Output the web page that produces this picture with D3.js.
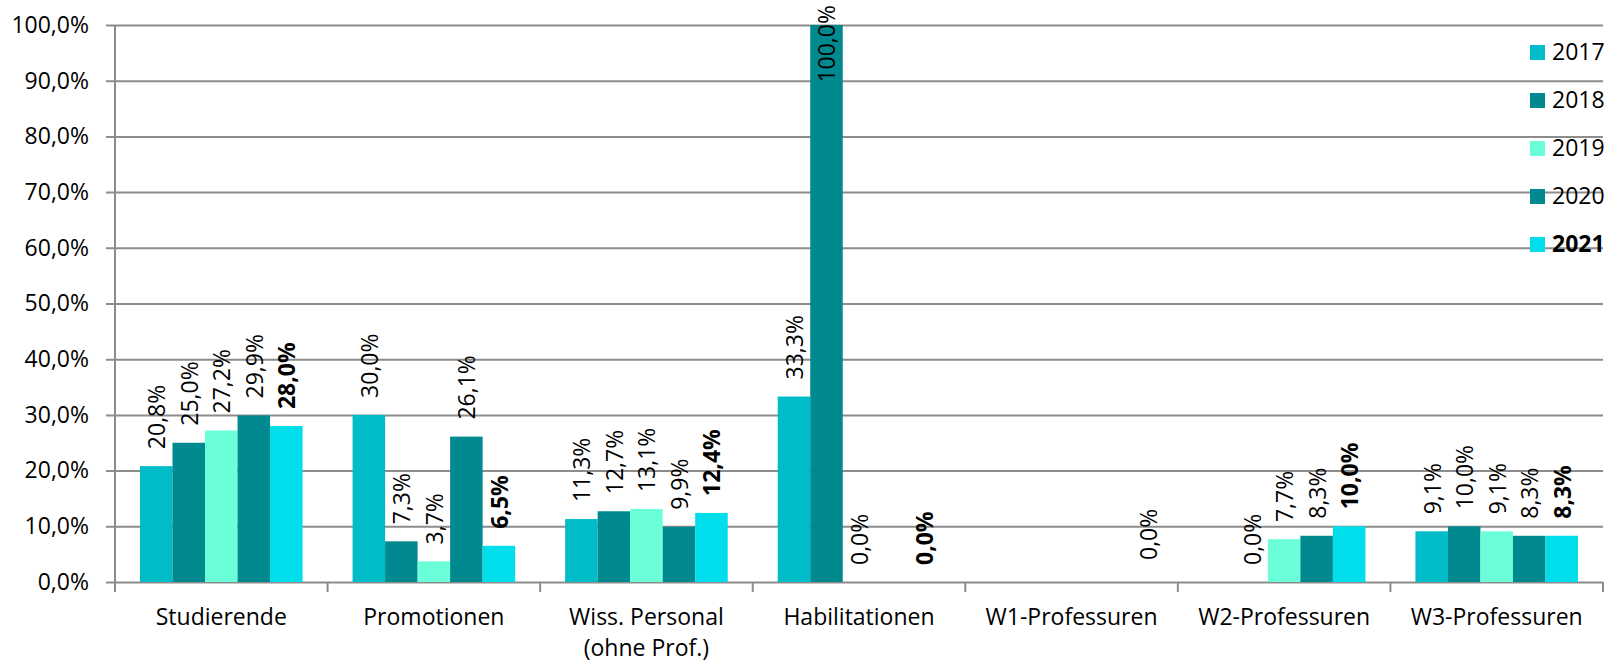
<!DOCTYPE html>
<html>
<head>
<meta charset="utf-8">
<script src="https://cdn.jsdelivr.net/npm/d3@7"></script>
<style>
  html, body { margin: 0; padding: 0; background: #fff; }
  svg { display: block; font-family: "Open Sans", sans-serif; }
</style>
</head>
<body>
<svg id="chart" width="1619" height="664"></svg>
<script>
// Anteil nach Kategorie und Jahr (in %); null = kein Wert
const categories = ["Studierende", "Promotionen", "Wiss. Personal\n(ohne Prof.)", "Habilitationen",
                    "W1-Professuren", "W2-Professuren", "W3-Professuren"];
const years = ["2017", "2018", "2019", "2020", "2021"];
const values2017 = [20.8, 30.0, 11.3, 33.3, null, null, 9.1];
const values2018 = [25.0, 7.3, 12.7, 100.0, null, 0.0, 10.0];
const values2019 = [27.2, 3.7, 13.1, 0.0, null, 7.7, 9.1];
const values2020 = [29.9, 26.1, 9.9, null, 0.0, 8.3, 8.3];
const values2021 = [28.0, 6.5, 12.4, 0.0, null, 10.0, 8.3];
const yTicks = [0, 10, 20, 30, 40, 50, 60, 70, 80, 90, 100];

const seriesValues = [values2017, values2018, values2019, values2020, values2021];
const colors = ["#00BCC9", "#00898F", "#6BFFD9", "#00898F", "#00DDEB"];
const boldYear = "2021";
// manually shifted data label (dx, dy)
const labelNudge = { "W1-Professuren|2020": [44, -5] };

const svg = d3.select("#chart");
const plotLeft = 115, plotRight = 1603, plotTop = 25, plotBottom = 582;
const fontSize = 23;

const x0 = d3.scaleBand().domain(categories).range([plotLeft, plotRight])
  .paddingInner(0.2352).paddingOuter(0.1176);
const x1 = d3.scaleBand().domain(years).range([0, x0.bandwidth()]).padding(0);
const y = d3.scaleLinear().domain([0, 100]).range([plotBottom, plotTop]);

const fmt = v => v.toFixed(1).replace(".", ",") + "%";

// gridlines + y tick labels (axis anchored at right edge so lines run leftwards past the axis)
const yAxis = d3.axisLeft(y).tickValues(yTicks).tickFormat(fmt)
  .tickSizeInner(plotRight - 106).tickSizeOuter(0).tickPadding(17);
const gy = svg.append("g").attr("transform", `translate(${plotRight},0)`).call(yAxis);
gy.select(".domain").remove();
gy.selectAll(".tick line").attr("stroke", "#8c8c8c").attr("stroke-width", 2);
gy.selectAll(".tick text").attr("font-size", fontSize).attr("fill", "#000")
  .attr("font-family", "Open Sans, sans-serif");

// y axis line
svg.append("line").attr("x1", plotLeft).attr("x2", plotLeft).attr("y1", y(100)).attr("y2", plotBottom)
  .attr("stroke", "#8c8c8c").attr("stroke-width", 2);

// x axis category tick marks
const step = x0.step();
const bounds = d3.range(categories.length + 1).map(i => plotLeft + i * step);
svg.append("g").selectAll("line").data(bounds).join("line")
  .attr("x1", d => d).attr("x2", d => d).attr("y1", plotBottom).attr("y2", plotBottom + 10)
  .attr("stroke", "#8c8c8c").attr("stroke-width", 2);

// rows: one per category/year
const rows = [];
categories.forEach((c, ci) => {
  years.forEach((yr, si) => {
    const v = seriesValues[si][ci];
    if (v !== null) rows.push({ cat: c, year: yr, si, value: v });
  });
});

// bars
svg.append("g").selectAll("rect").data(rows.filter(d => d.value > 0)).join("rect")
  .attr("x", d => x0(d.cat) + x1(d.year))
  .attr("y", d => y(d.value))
  .attr("width", x1.bandwidth())
  .attr("height", d => plotBottom - y(d.value))
  .attr("fill", d => colors[d.si]);

// value labels, rotated
const labels = svg.append("g").selectAll("text").data(rows).join("text")
  .attr("font-size", fontSize)
  .attr("font-weight", d => d.year === boldYear ? "bold" : "normal")
  .attr("fill", "#000")
  .attr("text-anchor", "start")
  .attr("dominant-baseline", "central")
  .text(d => fmt(d.value));

labels.each(function (d) {
  const len = this.getComputedTextLength();
  const nudge = labelNudge[d.cat + "|" + d.year] || [0, 0];
  const cx = x0(d.cat) + x1(d.year) + x1.bandwidth() / 2 + nudge[0];
  const sy = Math.max(y(d.value) - 17, 5 + len) + nudge[1];
  d3.select(this).attr("transform", `translate(${cx},${sy}) rotate(-90)`);
});

// category labels
const catText = svg.append("g").selectAll("text").data(categories).join("text")
  .attr("font-size", fontSize)
  .attr("fill", "#000")
  .attr("text-anchor", "middle")
  .attr("y", 625);
catText.each(function (d) {
  const cx = x0(d) + x0.bandwidth() / 2;
  d.split("\n").forEach((line, i) => {
    d3.select(this).append("tspan")
      .attr("x", cx)
      .attr("dy", i === 0 ? 0 : 31)
      .text(line);
  });
});

// legend
const legend = svg.append("g").selectAll("g").data(years).join("g")
  .attr("transform", (d, i) => `translate(1530,${60 + i * 48})`);
legend.append("rect").attr("x", 0).attr("y", -15).attr("width", 15).attr("height", 15)
  .attr("fill", (d, i) => colors[i]);
legend.append("text").attr("x", 22).attr("y", 0)
  .attr("font-size", fontSize)
  .attr("font-weight", d => d === boldYear ? "bold" : "normal")
  .attr("fill", "#000")
  .text(d => d);
</script>
</body>
</html>
